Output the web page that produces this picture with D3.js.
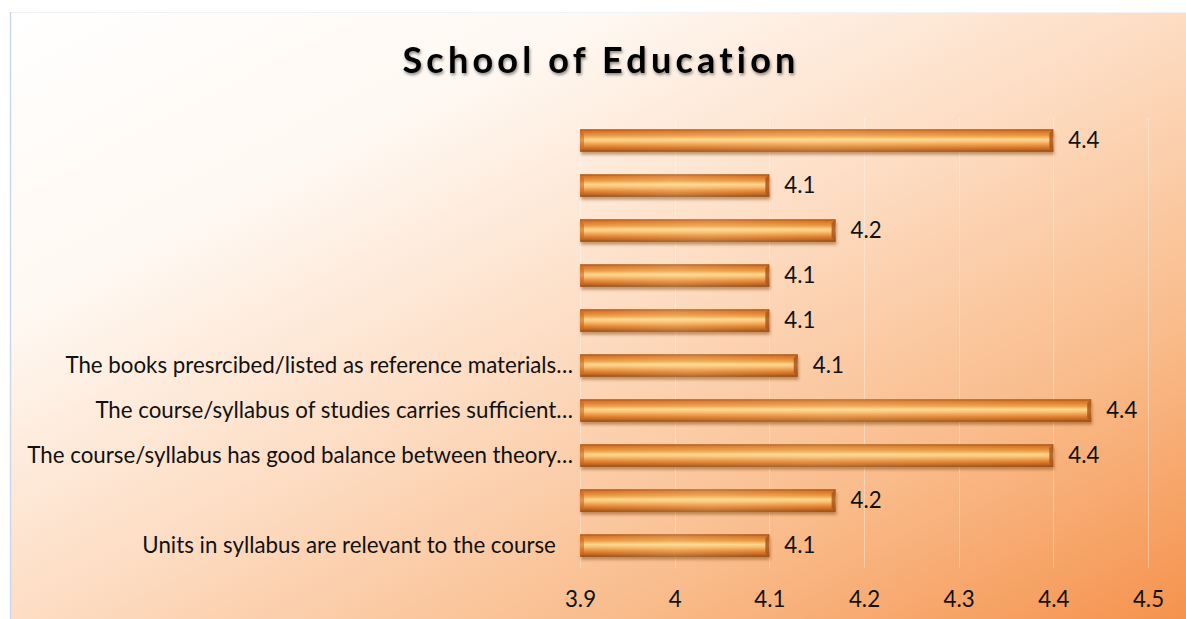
<!DOCTYPE html>
<html>
<head>
<meta charset="utf-8">
<script src="https://cdn.jsdelivr.net/npm/d3@7"></script>
<style>
  body { margin: 0; background: #fff; }
  text { font-family: Lato, "Open Sans", sans-serif; }
</style>
</head>
<body>
<div id="chart"></div>
<script>
// chart data, top bar first
var labels = ["", "", "", "", "",
    "The books presrcibed/listed as reference materials…",
    "The course/syllabus of studies carries sufficient…",
    "The course/syllabus has good balance between theory…",
    "",
    "Units in syllabus are relevant to the course   "];
var values = [4.4, 4.1, 4.17, 4.1, 4.1, 4.13, 4.44, 4.4, 4.17, 4.1];
var ticks = [3.9, 4, 4.1, 4.2, 4.3, 4.4, 4.5];
var title = "School of Education";

var W = 1186, H = 619;
var fs = 22.3;
var svg = d3.select('#chart').append('svg')
    .attr('width', W)
    .attr('height', H);

var defs = svg.append('defs');

// background gradient, white top-left to orange bottom-right
var bg = defs.append('linearGradient').attr('id', 'bg')
    .attr('x1', 0).attr('y1', 0).attr('x2', 1).attr('y2', 1);
[['0', '#ffffff'], ['0.25', '#fff8f2'], ['0.5', '#fddcc2'],
 ['0.75', '#f9bb8a'], ['1', '#f5904a']].forEach(function (s) {
    bg.append('stop').attr('offset', s[0]).attr('stop-color', s[1]);
});

// bar bevel gradient (vertical)
var bar = defs.append('linearGradient').attr('id', 'barGrad')
    .attr('x1', 0).attr('y1', 0).attr('x2', 0).attr('y2', 1);
[['0', '#a04f12'], ['0.1', '#d6742a'], ['0.3', '#ef9c44'], ['0.45', '#ffd68a'],
 ['0.55', '#fac277'], ['0.75', '#e28733'], ['0.9', '#c2631d'], ['1', '#8c4410']].forEach(function (s) {
    bar.append('stop').attr('offset', s[0]).attr('stop-color', s[1]);
});

// soft horizontal sheen on the bars
var sheen = defs.append('linearGradient').attr('id', 'sheen')
    .attr('x1', 0).attr('y1', 0).attr('x2', 1).attr('y2', 0);
sheen.append('stop').attr('offset', '0').attr('stop-color', '#fff3c0').attr('stop-opacity', 0);
sheen.append('stop').attr('offset', '0.5').attr('stop-color', '#fff3c0').attr('stop-opacity', 0.18);
sheen.append('stop').attr('offset', '1').attr('stop-color', '#fff3c0').attr('stop-opacity', 0);

var shadow = defs.append('filter').attr('id', 'shadow')
    .attr('x', '-5%').attr('y', '-30%').attr('width', '110%').attr('height', '180%');
shadow.append('feDropShadow').attr('dx', 1).attr('dy', 3).attr('stdDeviation', 1.5)
    .attr('flood-color', '#7a3b0c').attr('flood-opacity', 0.45);

var tshadow = defs.append('filter').attr('id', 'tshadow')
    .attr('x', '-5%').attr('y', '-20%').attr('width', '110%').attr('height', '160%');
tshadow.append('feDropShadow').attr('dx', 1).attr('dy', 2).attr('stdDeviation', 1.6)
    .attr('flood-color', '#000').attr('flood-opacity', 0.45);

// chart area
svg.append('rect')
    .attr('x', 10.5).attr('y', 12.5)
    .attr('width', W).attr('height', H)
    .attr('fill', 'url(#bg)')
    .attr('stroke', '#eef3fa');
svg.append('line')
    .attr('x1', 10.5).attr('x2', 10.5).attr('y1', 12).attr('y2', H)
    .attr('stroke', '#c9d8ee').attr('stroke-width', 1.5);

// title
svg.append('text')
    .attr('x', 601).attr('y', 73)
    .attr('text-anchor', 'middle')
    .attr('font-size', 36)
    .attr('font-weight', 'bold')
    .attr('letter-spacing', 4.2)
    .attr('fill', '#000')
    .attr('filter', 'url(#tshadow)')
    .text(title);

// scales
var x = d3.scaleLinear().domain([3.9, 4.5]).range([580, 1148]);
var y = d3.scaleBand().domain(d3.range(values.length)).range([118, 568])
    .paddingInner(0.5).paddingOuter(0.25);

// gridlines
svg.append('g').selectAll('line')
    .data(ticks)
    .enter().append('line')
    .attr('x1', d => Math.round(x(d)) + 0.5)
    .attr('x2', d => Math.round(x(d)) + 0.5)
    .attr('y1', 118).attr('y2', 568)
    .attr('stroke', '#ffffff')
    .attr('stroke-opacity', 0.35);

// x axis (labels only)
var xAxis = d3.axisBottom(x).tickValues(ticks).tickSize(0).tickPadding(0)
    .tickFormat(d3.format('~g'));
var gx = svg.append('g')
    .attr('transform', 'translate(0,' + 591 + ')')
    .call(xAxis);
gx.select('.domain').remove();
gx.selectAll('text')
    .attr('font-family', 'Lato, sans-serif')
    .attr('font-size', fs)
    .attr('fill', '#111');

// category labels
svg.append('g').selectAll('text')
    .data(labels)
    .enter().append('text')
    .attr('x', 573)
    .attr('y', (d, i) => y(i) + y.bandwidth() / 2)
    .attr('dy', '0.35em')
    .attr('text-anchor', 'end')
    .attr('font-size', fs)
    .attr('fill', '#111')
    .style('white-space', 'pre')
    .text(d => d);

// bars
var bars = svg.append('g').selectAll('g')
    .data(values)
    .enter().append('g')
    .attr('transform', (d, i) => 'translate(' + x(3.9) + ',' + y(i) + ')');

bars.append('rect')
    .attr('width', d => x(d) - x(3.9))
    .attr('height', y.bandwidth())
    .attr('fill', 'url(#barGrad)')
    .attr('filter', 'url(#shadow)');

bars.append('rect')
    .attr('width', d => x(d) - x(3.9))
    .attr('height', y.bandwidth())
    .attr('fill', 'url(#sheen)');

// bevel edges at the ends
var bh = y.bandwidth(), bv = 4;
bars.append('path')
    .attr('d', d => {
        var w = x(d) - x(3.9);
        return 'M' + w + ',0 L' + (w - bv) + ',' + bv + ' L' + (w - bv) + ',' + (bh - bv) + ' L' + w + ',' + bh + ' Z';
    })
    .attr('fill', '#a9561b')
    .attr('opacity', 0.85);
bars.append('path')
    .attr('d', 'M0,0 L' + bv + ',' + bv + ' L' + bv + ',' + (bh - bv) + ' L0,' + bh + ' Z')
    .attr('fill', '#c46a24')
    .attr('opacity', 0.6);

// value labels
svg.append('g').selectAll('text')
    .data(values)
    .enter().append('text')
    .attr('x', d => x(d) + 15)
    .attr('y', (d, i) => y(i) + y.bandwidth() / 2)
    .attr('dy', '0.35em')
    .attr('font-size', fs)
    .attr('fill', '#111')
    .text(d => d3.format('.1f')(d));
</script>
</body>
</html>
